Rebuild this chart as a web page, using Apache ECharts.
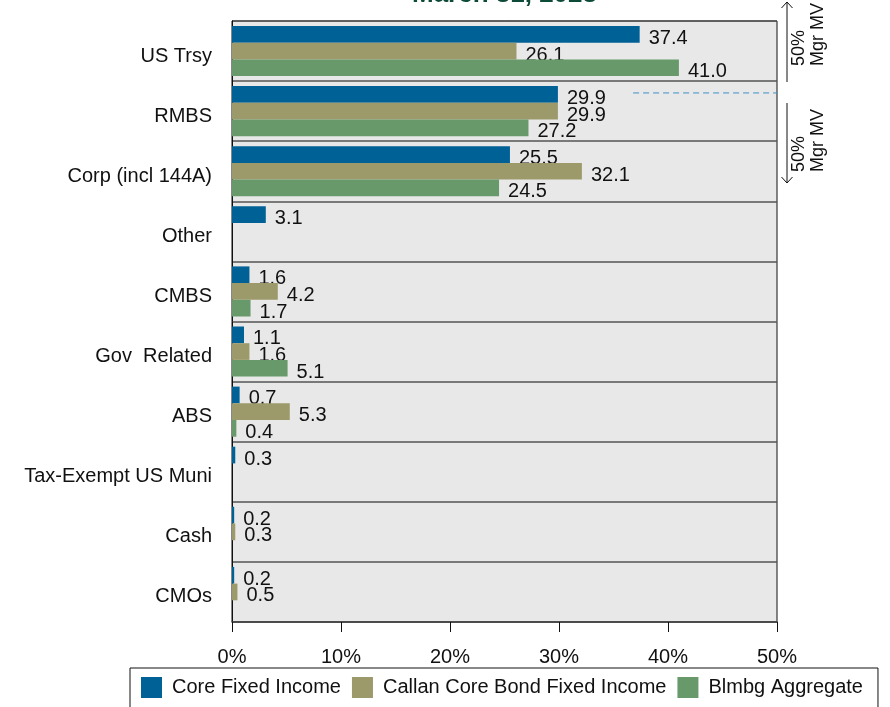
<!DOCTYPE html>
<html>
<head>
<meta charset="utf-8">
<script src="https://cdn.jsdelivr.net/npm/echarts@6/dist/echarts.min.js"></script>
<style>
  html, body { margin: 0; padding: 0; background: #fff; }
  #chart { width: 890px; height: 707px; }
</style>
</head>
<body>
<div id="chart"></div>
<script>
// Sector allocation, March 31, 2023 (% of market value)
const categories = ['US Trsy', 'RMBS', 'Corp (incl 144A)', 'Other', 'CMBS', 'Gov  Related', 'ABS', 'Tax-Exempt US Muni', 'Cash', 'CMOs'];
const seriesNames = ['Core Fixed Income', 'Callan Core Bond Fixed Income', 'Blmbg Aggregate'];
const coreFixedIncome = [37.4, 29.9, 25.5, 3.1, 1.6, 1.1, 0.7, 0.3, 0.2, 0.2];
const callanCoreBond  = [26.1, 29.9, 32.1, '-', 4.2, 1.6, 5.3, '-', 0.3, 0.5];
const blmbgAggregate  = [41.0, 27.2, 24.5, '-', 1.7, 5.1, 0.4, '-', '-', '-'];
const xTicks = { min: 0, max: 50, interval: 10 };
// cumulative 50% of manager market value falls inside the RMBS bar
const midpointMarker = { category: 'RMBS', from: 36.8 };

const colors = ['#006196', '#9c9a6a', '#67996a'];
const barW = 16.7;
const font = 'Liberation Sans, Arial, sans-serif';

const chart = echarts.init(document.getElementById('chart'), null, { renderer: 'canvas' });

function barSeries(name, data, idx) {
  return {
    name: name,
    type: 'bar',
    data: data,
    barWidth: barW,
    barGap: '0%',
    z: 2 + idx,
    itemStyle: { color: colors[idx] },
    label: {
      show: true,
      position: 'right',
      distance: 9,
      offset: [0, 4],
      fontFamily: font,
      fontSize: 20,
      color: '#111',
      formatter: p => Number(p.value).toFixed(1)
    }
  };
}

const option = {
  animation: false,
  backgroundColor: '#fff',
  textStyle: { fontFamily: font },
  grid: {
    left: 232, right: 113, top: 21, bottom: 85,
    show: true,
    backgroundColor: '#e8e8e8',
    borderColor: '#111',
    borderWidth: 1
  },
  legend: {
    data: seriesNames,
    left: 130,
    top: 668,
    icon: 'rect',
    itemWidth: 21,
    itemHeight: 21,
    itemGap: 11,
    padding: [9, 15, 14, 11],
    borderColor: '#111',
    borderWidth: 1,
    textStyle: { fontFamily: font, fontSize: 20, color: '#111', padding: [0, 0, 0, 5] }
  },
  xAxis: {
    type: 'value',
    min: xTicks.min,
    max: xTicks.max,
    interval: xTicks.interval,
    axisLine: { show: true, lineStyle: { color: '#444', width: 1.5 } },
    axisTick: { show: true, length: 10, lineStyle: { color: '#111' } },
    splitLine: { show: false },
    axisLabel: { formatter: '{value}%', fontFamily: font, fontSize: 20, color: '#111', margin: 25 }
  },
  yAxis: {
    type: 'category',
    data: categories,
    inverse: true,
    axisLine: { show: true, lineStyle: { color: '#111', width: 1 } },
    axisTick: { show: false },
    splitLine: { show: true, lineStyle: { color: '#555', width: 1.5 } },
    axisLabel: { fontFamily: font, fontSize: 20, color: '#111', margin: 20, verticalAlign: 'top', lineHeight: 10 }
  },
  series: [
    barSeries(seriesNames[0], coreFixedIncome, 0),
    barSeries(seriesNames[1], callanCoreBond, 1),
    barSeries(seriesNames[2], blmbgAggregate, 2)
  ]
};

chart.setOption(option);

// annotations: title, 50% markers on the right side, dashed midpoint line
const gridRect = { left: 232, right: 777 };
const p0 = chart.convertToPixel({ gridIndex: 0 }, [midpointMarker.from, midpointMarker.category]);
const midY = p0[1] - barW - 1.5;

function arrowGroup(x, y0, y1, up) {
  const tipY = up ? y0 : y1;
  const d = up ? 6 : -6;
  return [
    { type: 'line', shape: { x1: x, y1: y0, x2: x, y2: y1 }, style: { stroke: '#111', lineWidth: 1 } },
    { type: 'polyline', shape: { points: [[x - 5.5, tipY + d], [x, tipY], [x + 5.5, tipY + d]] }, style: { stroke: '#111', lineWidth: 1, fill: null } }
  ];
}

function sideText(text, x, y) {
  return {
    type: 'text', x: x, y: y, rotation: Math.PI / 2,
    style: { text: text, fontFamily: font, fontSize: 18, fill: '#111', textAlign: 'left', textVerticalAlign: 'middle' }
  };
}

chart.setOption({
  graphic: [
    {
      type: 'text',
      x: (gridRect.left + gridRect.right) / 2,
      y: 8,
      style: { text: 'March 31, 2023', fontFamily: font, fontSize: 26, fontWeight: 'bold', fill: '#0e4a38', textAlign: 'center', textVerticalAlign: 'bottom' }
    },
    {
      type: 'line',
      shape: { x1: p0[0], y1: midY, x2: gridRect.right, y2: midY },
      style: { stroke: '#3d8fc6', lineWidth: 1, lineDash: [6, 4] },
      z: 10
    },
    ...arrowGroup(787, 2, 82, true),
    sideText('50%', 799, 66),
    sideText('Mgr MV', 818, 66),
    ...arrowGroup(787, 103, 183, false),
    sideText('50%', 799, 172),
    sideText('Mgr MV', 818, 172)
  ]
});
</script>
</body>
</html>
